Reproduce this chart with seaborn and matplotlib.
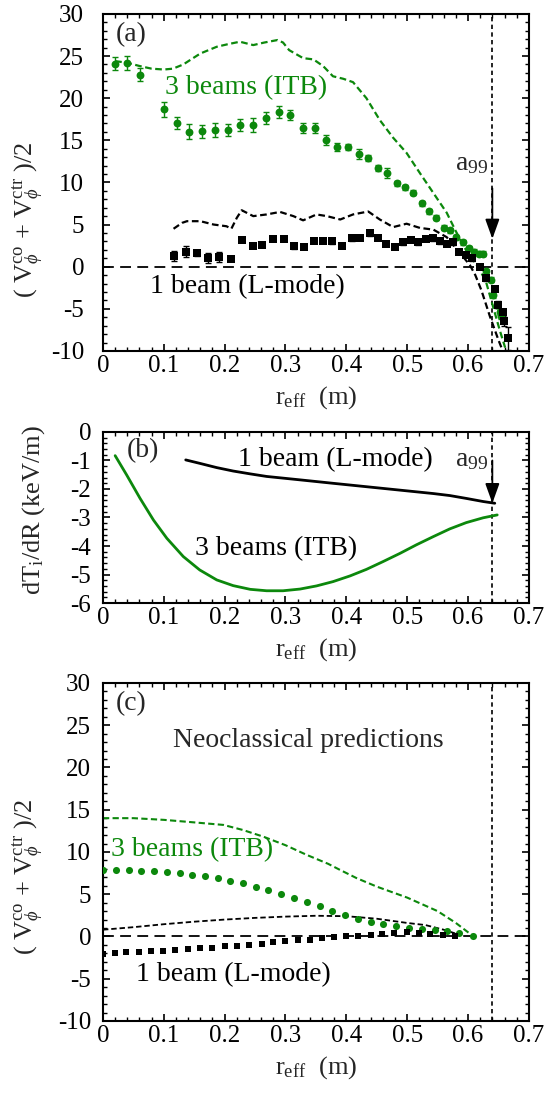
import numpy as np
import pandas as pd
import matplotlib
matplotlib.use("Agg")
import matplotlib.pyplot as plt
from matplotlib.ticker import MultipleLocator, FixedLocator
import seaborn as sns

# ---------------- panel (a): measured rotation ----------------
a_itb_r = [0.020, 0.040, 0.061, 0.100, 0.122, 0.142, 0.163, 0.184, 0.205, 0.226,
           0.247, 0.268, 0.289, 0.308, 0.329, 0.348, 0.366, 0.385, 0.403, 0.420,
           0.436, 0.452, 0.467, 0.483, 0.497, 0.510, 0.524, 0.536, 0.548, 0.560,
           0.571, 0.581, 0.591, 0.601, 0.610, 0.618, 0.625, 0.630, 0.637, 0.641,
           0.647, 0.652, 0.655]
a_itb_v = [24.1, 24.2, 22.8, 18.7, 17.1, 16.0, 16.05, 16.2, 16.2, 16.8,
           16.8, 17.6, 18.35, 18.0, 16.45, 16.45, 15.0, 14.2, 14.2, 13.4,
           12.9, 11.7, 11.1, 9.9, 9.45, 8.8, 7.5, 6.55, 5.8, 4.6,
           4.3, 3.5, 2.9, 2.2, 1.8, 1.55, 1.55, -0.55, -1.55, -3.4,
           -4.6, -5.4, -5.9]
a_itb_err = [0.8, 0.8, 0.8, 0.9, 0.7, 0.9, 0.8, 0.8, 0.7, 0.7,
             0.8, 0.7, 0.7, 0.6, 0.6, 0.6, 0.6, 0.5, 0.4, 0.6,
             0.3, 0.4, 0.6, 0.3, 0.3, 0.3, 0.3, 0.3, 0.3, 0.3,
             0.3, 0.3, 0.3, 0.3, 0.3, 0.3, 0.3, 0.3, 0.3, 0.3,
             0.3, 0.3, 0.3]

a_lm_r = [0.117, 0.136, 0.154, 0.173, 0.191, 0.211, 0.228, 0.246, 0.262, 0.280,
          0.297, 0.314, 0.330, 0.347, 0.362, 0.377, 0.393, 0.409, 0.423, 0.439,
          0.452, 0.466, 0.480, 0.493, 0.506, 0.518, 0.531, 0.542, 0.554, 0.565,
          0.576, 0.585, 0.596, 0.606, 0.619, 0.630, 0.644, 0.650, 0.657, 0.659,
          0.666]
a_lm_v = [1.3, 1.8, 1.6, 1.0, 1.2, 0.9, 3.2, 2.5, 2.6, 3.3,
          3.3, 2.4, 2.35, 3.1, 3.1, 3.0, 2.5, 3.4, 3.45, 4.0,
          3.45, 2.7, 2.35, 2.9, 3.2, 2.9, 3.3, 3.35, 3.0, 2.7,
          2.9, 1.8, 1.4, 1.0, 0.0, -1.4, -2.6, -4.5, -5.4, -6.5,
          -8.5]
a_lm_err = [0.6, 0.6, 0.3, 0.6, 0.6, 0.2, 0.3, 0.3, 0.3, 0.3,
            0.3, 0.3, 0.3, 0.3, 0.3, 0.3, 0.3, 0.3, 0.3, 0.3,
            0.3, 0.3, 0.3, 0.3, 0.3, 0.3, 0.3, 0.3, 0.3, 0.3,
            0.3, 0.3, 0.3, 0.3, 0.3, 0.3, 0.3, 0.4, 0.4, 0.5,
            1.4]

a_itb_curve_r = [0.020, 0.040, 0.061, 0.080, 0.100, 0.115, 0.132, 0.147, 0.160, 0.187,
                 0.205, 0.225, 0.247, 0.265, 0.287, 0.296, 0.306, 0.329, 0.346, 0.362,
                 0.378, 0.395, 0.411, 0.433, 0.455, 0.477, 0.499, 0.521, 0.543, 0.565,
                 0.580, 0.598, 0.619, 0.630, 0.641, 0.652, 0.661]
a_itb_curve_v = [24.4, 24.2, 23.8, 23.5, 23.4, 23.5, 24.0, 24.7, 25.3, 26.1,
                 26.4, 26.7, 26.3, 26.6, 26.9, 26.6, 25.7, 24.75, 24.6, 23.8,
                 22.6, 22.3, 21.9, 20.0, 17.4, 15.3, 13.5, 11.1, 8.75, 6.4,
                 4.2, 1.8, -0.3, -1.9, -4.7, -7.5, -9.6]

a_lm_curve_r = [0.116, 0.130, 0.138, 0.160, 0.182, 0.203, 0.211, 0.220, 0.228, 0.247,
                0.269, 0.291, 0.313, 0.329, 0.351, 0.368, 0.390, 0.411, 0.436, 0.455,
                0.477, 0.499, 0.521, 0.543, 0.565, 0.587, 0.603, 0.612, 0.622, 0.636,
                0.650, 0.656]
a_lm_curve_v = [4.5, 5.2, 5.4, 5.4, 5.0, 4.8, 4.5, 5.8, 6.7, 6.0,
                6.2, 6.5, 6.0, 5.5, 6.2, 6.0, 5.6, 6.2, 6.55, 5.6,
                4.7, 5.1, 4.6, 4.4, 3.5, 1.6, 0.2, -1.0, -2.8, -5.9,
                -8.7, -9.8]

# ---------------- panel (b): ion temperature gradient ----------------
b_itb_r = [0.020, 0.039, 0.061, 0.083, 0.105, 0.132, 0.159, 0.187, 0.214, 0.242,
           0.269, 0.296, 0.324, 0.351, 0.378, 0.406, 0.433, 0.460, 0.488, 0.515,
           0.543, 0.570, 0.597, 0.625, 0.648]
b_itb_v = [-0.83, -1.51, -2.33, -3.09, -3.73, -4.37, -4.84, -5.19, -5.39, -5.52,
           -5.57, -5.57, -5.51, -5.40, -5.25, -5.05, -4.82, -4.55, -4.26, -3.96,
           -3.67, -3.40, -3.18, -3.01, -2.91]
b_lm_r = [0.136, 0.159, 0.187, 0.214, 0.242, 0.269, 0.324, 0.378, 0.433, 0.488,
          0.543, 0.570, 0.597, 0.625, 0.644]
b_lm_v = [-0.98, -1.10, -1.25, -1.37, -1.47, -1.56, -1.68, -1.80, -1.92, -2.04,
          -2.16, -2.23, -2.33, -2.44, -2.50]

# ---------------- panel (c): neoclassical predictions ----------------
c_itb_r = [0.000, 0.021, 0.042, 0.063, 0.084, 0.105, 0.126, 0.147, 0.167, 0.189,
           0.209, 0.230, 0.251, 0.272, 0.293, 0.314, 0.335, 0.356, 0.377, 0.398,
           0.419, 0.440, 0.460, 0.482, 0.503, 0.524, 0.545, 0.566, 0.586, 0.608]
c_itb_v = [7.9, 7.85, 7.85, 7.8, 7.7, 7.6, 7.5, 7.3, 7.1, 6.9,
           6.6, 6.3, 5.9, 5.5, 5.05, 4.55, 4.05, 3.55, 3.0, 2.55,
           2.1, 1.7, 1.45, 1.2, 1.0, 0.87, 0.8, 0.67, 0.4, 0.0]
c_lm_r = [0.000, 0.019, 0.038, 0.059, 0.079, 0.099, 0.119, 0.139, 0.159, 0.180,
          0.200, 0.220, 0.240, 0.261, 0.280, 0.300, 0.321, 0.340, 0.360, 0.380,
          0.399, 0.419, 0.440, 0.459, 0.479, 0.499, 0.519, 0.538, 0.559, 0.578]
c_lm_v = [-2.05, -1.97, -1.89, -1.85, -1.77, -1.69, -1.58, -1.5, -1.42, -1.38,
          -1.18, -1.1, -0.98, -0.87, -0.71, -0.59, -0.47, -0.39, -0.2, -0.12,
          0.0, 0.08, 0.2, 0.32, 0.39, 0.47, 0.39, 0.32, 0.2, 0.0]
c_itb_curve_r = [0.0, 0.05, 0.10, 0.15, 0.198, 0.23, 0.264, 0.30, 0.335, 0.37,
                 0.389, 0.417, 0.45, 0.50, 0.55, 0.58, 0.60, 0.61]
c_itb_curve_v = [14.0, 14.0, 13.8, 13.5, 13.2, 12.6, 11.8, 10.8, 9.65, 8.6,
                 7.9, 6.9, 5.9, 4.6, 3.0, 1.6, 0.5, 0.0]
c_lm_curve_r = [0.0, 0.05, 0.10, 0.15, 0.20, 0.25, 0.30, 0.35, 0.40, 0.45,
                0.50, 0.53, 0.56, 0.586]
c_lm_curve_v = [0.8, 1.1, 1.45, 1.75, 2.0, 2.2, 2.35, 2.45, 2.4, 2.1,
                1.6, 1.35, 0.8, 0.2]

a99 = 0.64
x_ticks = [0, 0.1, 0.2, 0.3, 0.4, 0.5, 0.6, 0.7]
x_ticklabels = ["0", "0.1", "0.2", "0.3", "0.4", "0.5", "0.6", "0.7"]
v_ticks = [-10, -5, 0, 5, 10, 15, 20, 25, 30]
g_ticks = [0, -1, -2, -3, -4, -5, -6]

GREEN = "#0c880c"
BLACK = "#000000"

sns.set_theme(style="ticks")
plt.rcParams["font.family"] = ["Liberation Serif", "DejaVu Serif"]
plt.rcParams["mathtext.fontset"] = "custom"
plt.rcParams["mathtext.rm"] = "Liberation Serif"
plt.rcParams["mathtext.it"] = "Liberation Serif:italic"
plt.rcParams["mathtext.fallback"] = "stix"
plt.rcParams["axes.unicode_minus"] = False

TICK_FS = 18
TXT_FS = 20
LAB_FS = 19
DASH = (3.0, 1.6)

fig = plt.figure(figsize=(5.46, 10.95), dpi=100)
ax_a = fig.add_axes([0.1886, 0.6795, 0.780, 0.3078])
ax_b = fig.add_axes([0.1886, 0.4493, 0.780, 0.1562])
ax_c = fig.add_axes([0.1886, 0.0676, 0.780, 0.3087])


def style(ax, ypad, yminor):
    for s in ax.spines.values():
        s.set_linewidth(1.5)
        s.set_color("black")
    ax.set_xlim(0, 0.7)
    ax.xaxis.set_major_locator(FixedLocator(x_ticks))
    ax.set_xticklabels(x_ticklabels)
    ax.xaxis.set_minor_locator(MultipleLocator(0.02))
    ax.yaxis.set_minor_locator(MultipleLocator(yminor))
    ax.tick_params(which="both", direction="in", top=True, right=True,
                   colors="black")
    ax.tick_params(which="major", length=5, width=1.2, labelsize=TICK_FS)
    ax.tick_params(which="minor", length=3, width=1.0)
    ax.tick_params(axis="x", which="major", pad=3)
    ax.tick_params(axis="y", which="major", pad=ypad)
    ax.grid(False)


def xlab(ax):
    ax.set_xlabel(r"r$_{\rm eff}$  (m)", fontsize=LAB_FS, labelpad=5)


def ref_lines(ax, zero=True):
    if zero:
        ax.axhline(0, color=BLACK, lw=1.3, dashes=(6, 3.5), zorder=1)
    ax.axvline(a99, color=BLACK, lw=1.2, dashes=(2.6, 2.0), zorder=1)


def arrow(ax, top, tip):
    ax.annotate("", xy=(a99, tip), xytext=(a99, top),
                arrowprops=dict(arrowstyle="-|>,head_length=1.0,head_width=0.36",
                                color=BLACK, lw=1.3, shrinkA=0, shrinkB=0))


# ---- (a)
ax = ax_a
ref_lines(ax)
sns.lineplot(x=a_itb_curve_r, y=a_itb_curve_v, ax=ax, color=GREEN, lw=1.6,
             sort=False, estimator=None, zorder=2).lines[-1].set_dashes(DASH)
sns.lineplot(x=a_lm_curve_r, y=a_lm_curve_v, ax=ax, color=BLACK, lw=1.6,
             sort=False, estimator=None, zorder=2).lines[-1].set_dashes(DASH)
ax.errorbar(a_itb_r, a_itb_v, yerr=a_itb_err, fmt="none", ecolor=GREEN,
            elinewidth=1.0, capsize=2.2, capthick=1.0, zorder=3)
ax.errorbar(a_lm_r, a_lm_v, yerr=a_lm_err, fmt="none", ecolor=BLACK,
            elinewidth=1.0, capsize=2.2, capthick=1.0, zorder=3)
sns.scatterplot(x=a_itb_r, y=a_itb_v, ax=ax, color=GREEN, marker="o", s=32,
                linewidth=0, zorder=4)
sns.scatterplot(x=a_lm_r, y=a_lm_v, ax=ax, color=BLACK, marker="s", s=32,
                linewidth=0, zorder=4)
arrow(ax, 9.3, 3.3)
ax.text(0.578, 11.5, r"a$_{99}$", fontsize=TXT_FS, ha="left", va="baseline")
ax.text(0.03, 0.975, "(a)", transform=ax.transAxes, fontsize=TXT_FS,
        ha="left", va="top")
ax.text(0.235, 21.2, "3 beams (ITB)", color=GREEN, fontsize=TXT_FS,
        ha="center", va="center")
ax.text(0.237, -2.4, "1 beam (L-mode)", color=BLACK, fontsize=TXT_FS,
        ha="center", va="center")
ax.set_ylim(-10, 30)
ax.yaxis.set_major_locator(FixedLocator(v_ticks))
style(ax, 13.5, 1)
xlab(ax)
ax.set_ylabel(r"( V$_\phi^{\rm co}$ + V$_\phi^{\rm ctr}$ )/2", fontsize=LAB_FS)
ax.yaxis.set_label_coords(-0.176, 0.389)
ax.yaxis.label.set_va("center")

# ---- (b)
ax = ax_b
ref_lines(ax, zero=False)
sns.lineplot(x=b_itb_r, y=b_itb_v, ax=ax, color=GREEN, lw=2.0,
             sort=False, estimator=None, zorder=2)
sns.lineplot(x=b_lm_r, y=b_lm_v, ax=ax, color=BLACK, lw=2.0,
             sort=False, estimator=None, zorder=2)
arrow(ax, -1.0, -2.5)
ax.text(0.578, -1.20, r"a$_{99}$", fontsize=TXT_FS, ha="left", va="baseline")
ax.text(0.0665, -0.66, "(b)", fontsize=TXT_FS, ha="center", va="center")
ax.text(0.382, -0.97, "1 beam (L-mode)", color=BLACK, fontsize=TXT_FS,
        ha="center", va="center")
ax.text(0.284, -4.1, "3 beams (ITB)", color=BLACK, fontsize=TXT_FS,
        ha="center", va="center")
ax.set_ylim(-6, 0)
ax.yaxis.set_major_locator(FixedLocator(g_ticks))
style(ax, 8.5, 0.2)
xlab(ax)
ax.set_ylabel(r"dT$_{\rm i}$/dR (keV/m)", fontsize=LAB_FS)
ax.yaxis.set_label_coords(-0.162, 0.544)
ax.yaxis.label.set_va("center")

# ---- (c)
ax = ax_c
ref_lines(ax)
sns.lineplot(x=c_itb_curve_r, y=c_itb_curve_v, ax=ax, color=GREEN, lw=1.5,
             sort=False, estimator=None, zorder=2).lines[-1].set_dashes(DASH)
sns.lineplot(x=c_lm_curve_r, y=c_lm_curve_v, ax=ax, color=BLACK, lw=1.3,
             sort=False, estimator=None, zorder=2).lines[-1].set_dashes(DASH)
sns.scatterplot(x=c_itb_r, y=c_itb_v, ax=ax, color=GREEN, marker="o", s=26,
                linewidth=0, zorder=4)
sns.scatterplot(x=c_lm_r, y=c_lm_v, ax=ax, color=BLACK, marker="s", s=24,
                linewidth=0, zorder=4)
ax.text(0.03, 0.975, "(c)", transform=ax.transAxes, fontsize=TXT_FS,
        ha="left", va="top")
ax.text(0.338, 23.2, "Neoclassical predictions", fontsize=TXT_FS,
        ha="center", va="center")
ax.text(0.147, 10.25, "3 beams (ITB)", color=GREEN, fontsize=TXT_FS,
        ha="center", va="center")
ax.text(0.214, -4.5, "1 beam (L-mode)", color=BLACK, fontsize=TXT_FS,
        ha="center", va="center")
ax.set_ylim(-10, 30)
ax.yaxis.set_major_locator(FixedLocator(v_ticks))
style(ax, 8.5, 1)
xlab(ax)
ax.set_ylabel(r"( V$_\phi^{\rm co}$ + V$_\phi^{\rm ctr}$ )/2", fontsize=LAB_FS)
ax.yaxis.set_label_coords(-0.176, 0.426)
ax.yaxis.label.set_va("center")

fig.savefig("out.png", dpi=100)
